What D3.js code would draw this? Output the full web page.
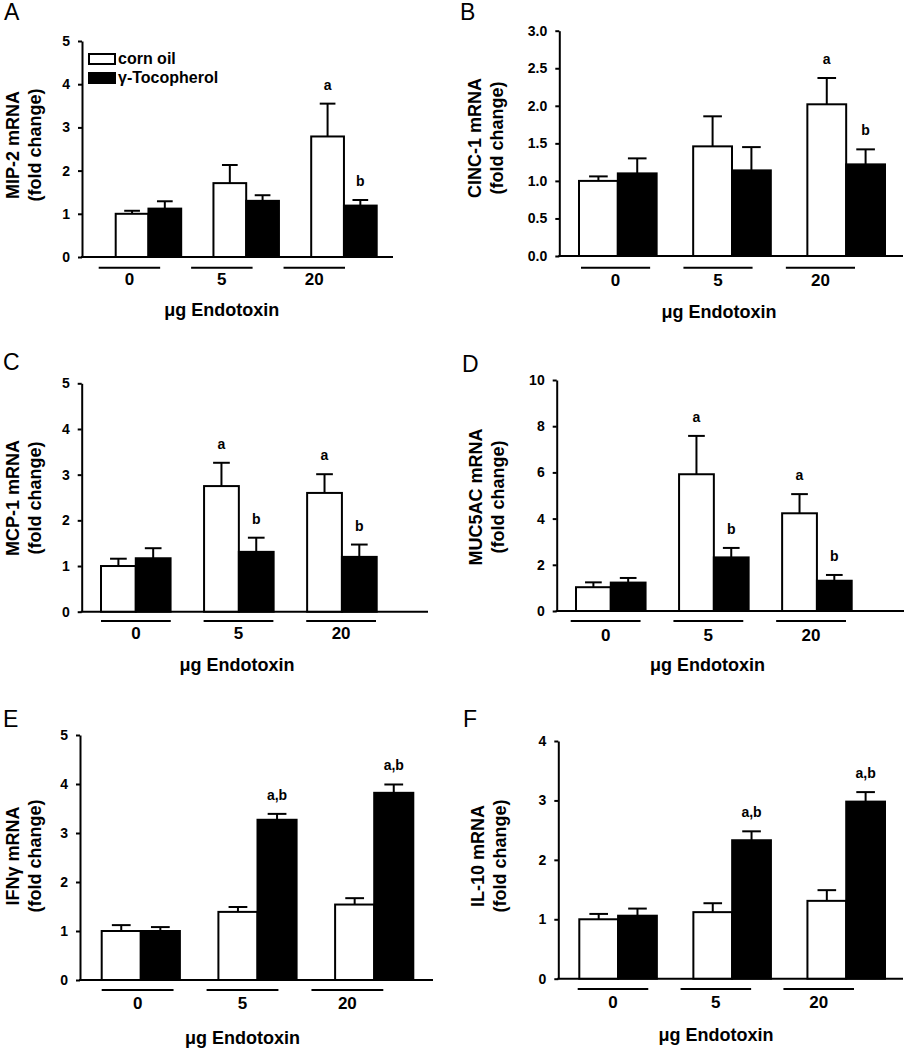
<!DOCTYPE html>
<html><head><meta charset="utf-8">
<script src="https://cdn.jsdelivr.net/npm/d3@7"></script>
<style>
body{margin:0;background:#fff}
svg{display:block}
text{font-family:"Liberation Sans",Arial,sans-serif;fill:#000}
</style>
</head><body>
<svg id="chart" width="904" height="1050"></svg>
<script>
// ---------------- DATA ----------------
const groups = ["0", "5", "20"];
const seriesNames = ["corn oil", "γ-Tocopherol"];
const panelLetters = ["A", "B", "C", "D", "E", "F"];
const yTitles = ["MIP-2 mRNA", "CINC-1 mRNA", "MCP-1 mRNA", "MUC5AC mRNA", "IFNγ mRNA", "IL-10 mRNA"];
const yTitleSub = "(fold change)";
const xTitle = "μg Endotoxin";

const ticksA = [0, 1, 2, 3, 4, 5];
const ticksB = [0, 0.5, 1, 1.5, 2, 2.5, 3];
const ticksC = [0, 1, 2, 3, 4, 5];
const ticksD = [0, 2, 4, 6, 8, 10];
const ticksE = [0, 1, 2, 3, 4, 5];
const ticksF = [0, 1, 2, 3, 4];

// means and SEM (upper error bar) : corn oil / gamma-tocopherol
const mip2Corn = [1.00, 1.71, 2.79],  mip2CornSem = [0.07, 0.42, 0.76];
const mip2Toco = [1.12, 1.30, 1.19],  mip2TocoSem = [0.17, 0.13, 0.13];
const cinc1Corn = [1.00, 1.46, 2.02], cinc1CornSem = [0.06, 0.40, 0.35];
const cinc1Toco = [1.10, 1.14, 1.22], cinc1TocoSem = [0.20, 0.31, 0.20];
const mcp1Corn = [1.00, 2.75, 2.60],  mcp1CornSem = [0.16, 0.51, 0.41];
const mcp1Toco = [1.17, 1.31, 1.20],  mcp1TocoSem = [0.22, 0.31, 0.27];
const muc5acCorn = [1.03, 5.92, 4.23], muc5acCornSem = [0.21, 1.66, 0.83];
const muc5acToco = [1.23, 2.32, 1.31], muc5acTocoSem = [0.20, 0.41, 0.25];
const ifngCorn = [1.00, 1.39, 1.54],  ifngCornSem = [0.12, 0.10, 0.13];
const ifngToco = [1.00, 3.27, 3.82],  ifngTocoSem = [0.08, 0.12, 0.17];
const il10Corn = [1.00, 1.12, 1.31],  il10CornSem = [0.09, 0.15, 0.18];
const il10Toco = [1.06, 2.33, 2.98],  il10TocoSem = [0.12, 0.15, 0.16];

// significance letters
const sigA_corn = ["", "", "a"],  sigA_toco = ["", "", "b"];
const sigB_corn = ["", "", "a"],  sigB_toco = ["", "", "b"];
const sigC_corn = ["", "a", "a"], sigC_toco = ["", "b", "b"];
const sigD_corn = ["", "a", "a"], sigD_toco = ["", "b", "b"];
const sigE_corn = ["", "", ""],   sigE_toco = ["", "a,b", "a,b"];
const sigF_corn = ["", "", ""],   sigF_toco = ["", "a,b", "a,b"];

// ---------------- ASSEMBLY ----------------
const panels = [
  {ticks: ticksA, fmt: d3.format("d"),   means: [mip2Corn, mip2Toco],     sems: [mip2CornSem, mip2TocoSem],     sig: [sigA_corn, sigA_toco]},
  {ticks: ticksB, fmt: d3.format(".1f"), means: [cinc1Corn, cinc1Toco],   sems: [cinc1CornSem, cinc1TocoSem],   sig: [sigB_corn, sigB_toco]},
  {ticks: ticksC, fmt: d3.format("d"),   means: [mcp1Corn, mcp1Toco],     sems: [mcp1CornSem, mcp1TocoSem],     sig: [sigC_corn, sigC_toco]},
  {ticks: ticksD, fmt: d3.format("d"),   means: [muc5acCorn, muc5acToco], sems: [muc5acCornSem, muc5acTocoSem], sig: [sigD_corn, sigD_toco]},
  {ticks: ticksE, fmt: d3.format("d"),   means: [ifngCorn, ifngToco],     sems: [ifngCornSem, ifngTocoSem],     sig: [sigE_corn, sigE_toco]},
  {ticks: ticksF, fmt: d3.format("d"),   means: [il10Corn, il10Toco],     sems: [il10CornSem, il10TocoSem],     sig: [sigF_corn, sigF_toco]}
];

// layout (pixel geometry of each panel)
const layout = [
  {L:82,    T:41,    B:257,   R:393, bars:[115.7,376.7], pad:0.33,  under:[98.7,345],   upad:0.335, uy:267.7, ly:285,  tx:221.7, ty:316,  yt1:19,  yt2:41,  ytc:145, lx:4,   lyL:20},
  {L:559.3, T:30.7,  B:256,   R:903, bars:[579,885],     pad:0.32,  under:[581,855],    upad:0.325, uy:267.7, ly:286,  tx:719,   ty:318,  yt1:481, yt2:503, ytc:138, lx:460, lyL:20},
  {L:81.7,  T:383.3, B:611.7, R:428, bars:[101,376.7],   pad:0.325, under:[101,376],    upad:0.32,  uy:621,   ly:639,  tx:237,   ty:671,  yt1:19,  yt2:41,  ytc:498, lx:3,   lyL:370},
  {L:556.7, T:380,   B:611,   R:904, bars:[576,851.7],   pad:0.325, under:[570.7,846],  upad:0.32,  uy:621,   ly:641,  tx:707.5, ty:671,  yt1:482, yt2:504, ytc:497, lx:462, lyL:372},
  {L:80,    T:735,   B:980,   R:433, bars:[101.7,413.3], pad:0.33,  under:[101.7,383.3],upad:0.315, uy:990,   ly:1009, tx:242.5, ty:1044, yt1:19,  yt2:41,  ytc:856, lx:3,   lyL:727},
  {L:558.3, T:741,   B:978.7, R:903, bars:[579.3,885],   pad:0.32,  under:[577.7,854],  upad:0.314, uy:989,   ly:1008, tx:716,   ty:1041, yt1:484, yt2:506, ytc:856, lx:463, lyL:727}
];

const fills = ["#fff", "#000"];
const svg = d3.select("#chart");

panels.forEach((p, i) => {
  const lay = layout[i];
  const g = svg.append("g");
  const y = d3.scaleLinear().domain([0, d3.max(p.ticks)]).range([lay.B, lay.T]);
  const xg = d3.scaleBand().domain(groups).range(lay.bars).paddingInner(lay.pad).paddingOuter(0);
  const xs = d3.scaleBand().domain([0, 1]).range([0, xg.bandwidth()]);
  const xu = d3.scaleBand().domain(groups).range(lay.under).paddingInner(lay.upad).paddingOuter(0);

  // panel letter
  g.append("text").attr("x", lay.lx).attr("y", lay.lyL)
    .style("font-size", "23px").text(panelLetters[i]);

  // y axis
  const yAxis = d3.axisLeft(y).tickValues(p.ticks).tickFormat(p.fmt)
    .tickSize(4).tickSizeOuter(0).tickPadding(8);
  const ag = g.append("g").attr("transform", `translate(${lay.L},0)`).call(yAxis);
  ag.select(".domain").attr("stroke", "#000").attr("stroke-width", 2);
  ag.selectAll(".tick line").attr("stroke", "#000").attr("stroke-width", 2);
  ag.selectAll(".tick text").style("font-size", "14px").style("font-weight", "bold")
    .style("font-family", '"Liberation Sans",Arial,sans-serif');

  // x axis baseline
  g.append("line").attr("x1", lay.L - 1).attr("x2", lay.R)
    .attr("y1", y(0)).attr("y2", y(0)).attr("stroke", "#000").attr("stroke-width", 2);

  // bars
  const rows = [];
  groups.forEach((gr, gi) => {
    [0, 1].forEach(s => rows.push({gr, s, m: p.means[s][gi], e: p.sems[s][gi], sig: p.sig[s][gi]}));
  });
  const barG = g.append("g");
  barG.selectAll("rect").data(rows).join("rect")
    .attr("x", d => xg(d.gr) + xs(d.s))
    .attr("y", d => y(d.m))
    .attr("width", xs.bandwidth())
    .attr("height", d => y(0) - y(d.m))
    .attr("fill", d => fills[d.s]).attr("stroke", "#000").attr("stroke-width", 2);

  // error bars (upper)
  const cap = xs.bandwidth() * 0.24;
  const eg = g.append("g").attr("stroke", "#000").attr("stroke-width", 2);
  eg.selectAll("line.v").data(rows).join("line").attr("class", "v")
    .attr("x1", d => xg(d.gr) + xs(d.s) + xs.bandwidth() / 2)
    .attr("x2", d => xg(d.gr) + xs(d.s) + xs.bandwidth() / 2)
    .attr("y1", d => y(d.m)).attr("y2", d => y(d.m + d.e));
  eg.selectAll("line.c").data(rows).join("line").attr("class", "c")
    .attr("x1", d => xg(d.gr) + xs(d.s) + xs.bandwidth() / 2 - cap)
    .attr("x2", d => xg(d.gr) + xs(d.s) + xs.bandwidth() / 2 + cap)
    .attr("y1", d => y(d.m + d.e)).attr("y2", d => y(d.m + d.e));

  // significance letters
  g.append("g").selectAll("text").data(rows.filter(d => d.sig)).join("text")
    .attr("x", d => xg(d.gr) + xs(d.s) + xs.bandwidth() / 2)
    .attr("y", d => y(d.m + d.e) - 14)
    .attr("text-anchor", "middle")
    .style("font-size", "14px").style("font-weight", "bold")
    .text(d => d.sig);

  // group underlines and labels
  const ug = g.append("g");
  ug.selectAll("line").data(groups).join("line")
    .attr("x1", d => xu(d)).attr("x2", d => xu(d) + xu.bandwidth())
    .attr("y1", lay.uy).attr("y2", lay.uy).attr("stroke", "#000").attr("stroke-width", 2);
  ug.selectAll("text").data(groups).join("text")
    .attr("x", d => xu(d) + xu.bandwidth() / 2).attr("y", lay.ly)
    .attr("text-anchor", "middle").style("font-size", "17px").style("font-weight", "bold")
    .text(d => d);

  // x title
  g.append("text").attr("x", lay.tx).attr("y", lay.ty).attr("text-anchor", "middle")
    .style("font-size", "18px").style("font-weight", "bold").text(xTitle);

  // y title (two lines)
  [[yTitles[i], lay.yt1], [yTitleSub, lay.yt2]].forEach(([t, bx]) => {
    g.append("text").attr("transform", `translate(${bx},${lay.ytc}) rotate(-90)`)
      .attr("text-anchor", "middle").style("font-size", "18px").style("font-weight", "bold").text(t);
  });

  // legend (panel A only)
  if (i === 0) {
    const lg = g.append("g");
    const legY = [54, 73];
    seriesNames.forEach((name, s) => {
      lg.append("rect").attr("x", 89).attr("y", legY[s]).attr("width", 26).attr("height", 10)
        .attr("fill", fills[s]).attr("stroke", "#000").attr("stroke-width", 2);
      lg.append("text").attr("x", 118).attr("y", legY[s] + 10)
        .style("font-size", "16px").style("font-weight", "bold").text(name);
    });
  }
});
</script>
</body></html>
